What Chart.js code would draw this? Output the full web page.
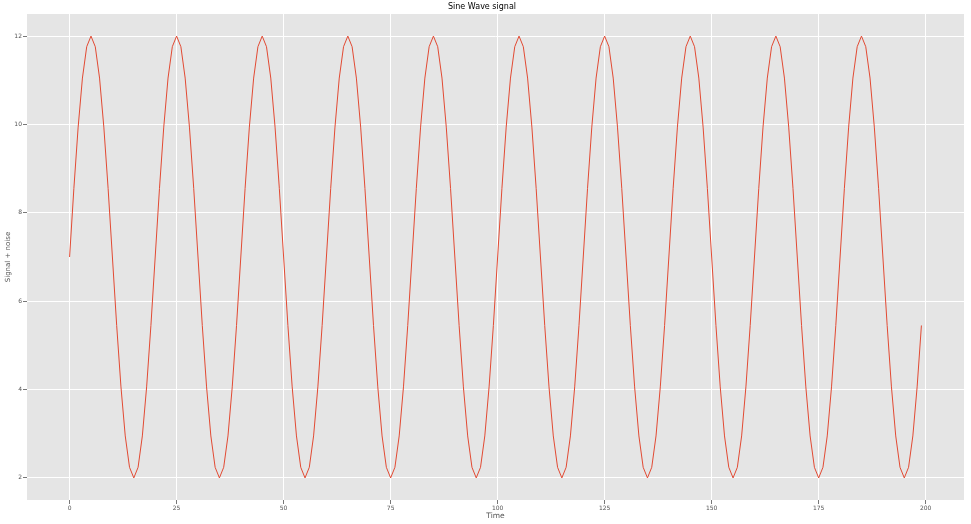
<!DOCTYPE html>
<html>
<head>
<meta charset="utf-8">
<script src="https://cdn.jsdelivr.net/npm/chart.js@4"></script>
<style>
  html, body { margin: 0; padding: 0; background: #ffffff; }
  #wrap { width: 971px; height: 524px; position: relative; }
</style>
</head>
<body>
<div id="wrap"><canvas id="c" width="971" height="524"></canvas></div>
<script>
const titleText = "Sine Wave signal";
const xLabel = "Time";
const yLabel = "Signal + noise";
const xTicks = [0, 25, 50, 75, 100, 125, 150, 175, 200];
const yTicks = [2, 4, 6, 8, 10, 12];
const signal = [
  7.00, 8.55, 9.94, 11.05, 11.76, 12.00, 11.76, 11.05, 9.94, 8.55, 7.00, 5.45, 4.06, 2.95, 2.24, 2.00, 2.24, 2.95, 4.06, 5.45,
  7.00, 8.55, 9.94, 11.05, 11.76, 12.00, 11.76, 11.05, 9.94, 8.55, 7.00, 5.45, 4.06, 2.95, 2.24, 2.00, 2.24, 2.95, 4.06, 5.45,
  7.00, 8.55, 9.94, 11.05, 11.76, 12.00, 11.76, 11.05, 9.94, 8.55, 7.00, 5.45, 4.06, 2.95, 2.24, 2.00, 2.24, 2.95, 4.06, 5.45,
  7.00, 8.55, 9.94, 11.05, 11.76, 12.00, 11.76, 11.05, 9.94, 8.55, 7.00, 5.45, 4.06, 2.95, 2.24, 2.00, 2.24, 2.95, 4.06, 5.45,
  7.00, 8.55, 9.94, 11.05, 11.76, 12.00, 11.76, 11.05, 9.94, 8.55, 7.00, 5.45, 4.06, 2.95, 2.24, 2.00, 2.24, 2.95, 4.06, 5.45,
  7.00, 8.55, 9.94, 11.05, 11.76, 12.00, 11.76, 11.05, 9.94, 8.55, 7.00, 5.45, 4.06, 2.95, 2.24, 2.00, 2.24, 2.95, 4.06, 5.45,
  7.00, 8.55, 9.94, 11.05, 11.76, 12.00, 11.76, 11.05, 9.94, 8.55, 7.00, 5.45, 4.06, 2.95, 2.24, 2.00, 2.24, 2.95, 4.06, 5.45,
  7.00, 8.55, 9.94, 11.05, 11.76, 12.00, 11.76, 11.05, 9.94, 8.55, 7.00, 5.45, 4.06, 2.95, 2.24, 2.00, 2.24, 2.95, 4.06, 5.45,
  7.00, 8.55, 9.94, 11.05, 11.76, 12.00, 11.76, 11.05, 9.94, 8.55, 7.00, 5.45, 4.06, 2.95, 2.24, 2.00, 2.24, 2.95, 4.06, 5.45,
  7.00, 8.55, 9.94, 11.05, 11.76, 12.00, 11.76, 11.05, 9.94, 8.55, 7.00, 5.45, 4.06, 2.95, 2.24, 2.00, 2.24, 2.95, 4.06, 5.45
];
const points = signal.map((v, i) => ({ x: i, y: v }));

const bgPlugin = {
  id: 'plotBg',
  beforeDraw(chart) {
    const { ctx, chartArea: a } = chart;
    ctx.save();
    ctx.fillStyle = '#E5E5E5';
    ctx.fillRect(a.left, a.top, a.right - a.left, a.bottom - a.top);
    ctx.restore();
  }
};

const FONT = "'DejaVu Sans', sans-serif";

new Chart(document.getElementById('c'), {
  type: 'line',
  data: {
    datasets: [{
      data: points,
      borderColor: '#E24A33',
      borderWidth: 1,
      pointRadius: 0,
      tension: 0,
      fill: false
    }]
  },
  options: {
    responsive: false,
    animation: false,
    devicePixelRatio: 1,
    layout: { padding: { left: 0, right: 7, top: 0, bottom: 0 } },
    plugins: {
      legend: { display: false },
      tooltip: { enabled: false },
      title: {
        display: true,
        text: titleText,
        color: '#000000',
        font: { family: FONT, size: 8, weight: 'normal' },
        padding: { top: 2.6, bottom: 1.8 }
      }
    },
    scales: {
      x: {
        type: 'linear',
        min: -9.95,
        max: 208.95,
        afterBuildTicks(scale) { scale.ticks = xTicks.map(v => ({ value: v })); },
        afterFit(scale) { scale.height = 24; },
        border: { display: false },
        grid: { color: '#FFFFFF', lineWidth: 1, tickColor: '#777777', tickLength: 4, drawTicks: true },
        ticks: { color: '#555555', font: { family: FONT, size: 6 }, padding: 1, maxRotation: 0, autoSkip: false },
        title: { display: true, text: xLabel, color: '#555555', font: { family: FONT, size: 7.5 }, padding: { top: 0, bottom: 3 } }
      },
      y: {
        type: 'linear',
        min: 1.5,
        max: 12.5,
        afterBuildTicks(scale) { scale.ticks = yTicks.map(v => ({ value: v })); },
        afterFit(scale) { scale.width = 27; },
        border: { display: false },
        grid: { color: '#FFFFFF', lineWidth: 1, tickColor: '#777777', tickLength: 4, drawTicks: true },
        ticks: { color: '#555555', font: { family: FONT, size: 6 }, padding: 1, autoSkip: false },
        title: { display: true, text: yLabel, color: '#555555', font: { family: FONT, size: 7 }, padding: { top: 3.5, bottom: 0 } }
      }
    }
  },
  plugins: [bgPlugin]
});
</script>
</body>
</html>
